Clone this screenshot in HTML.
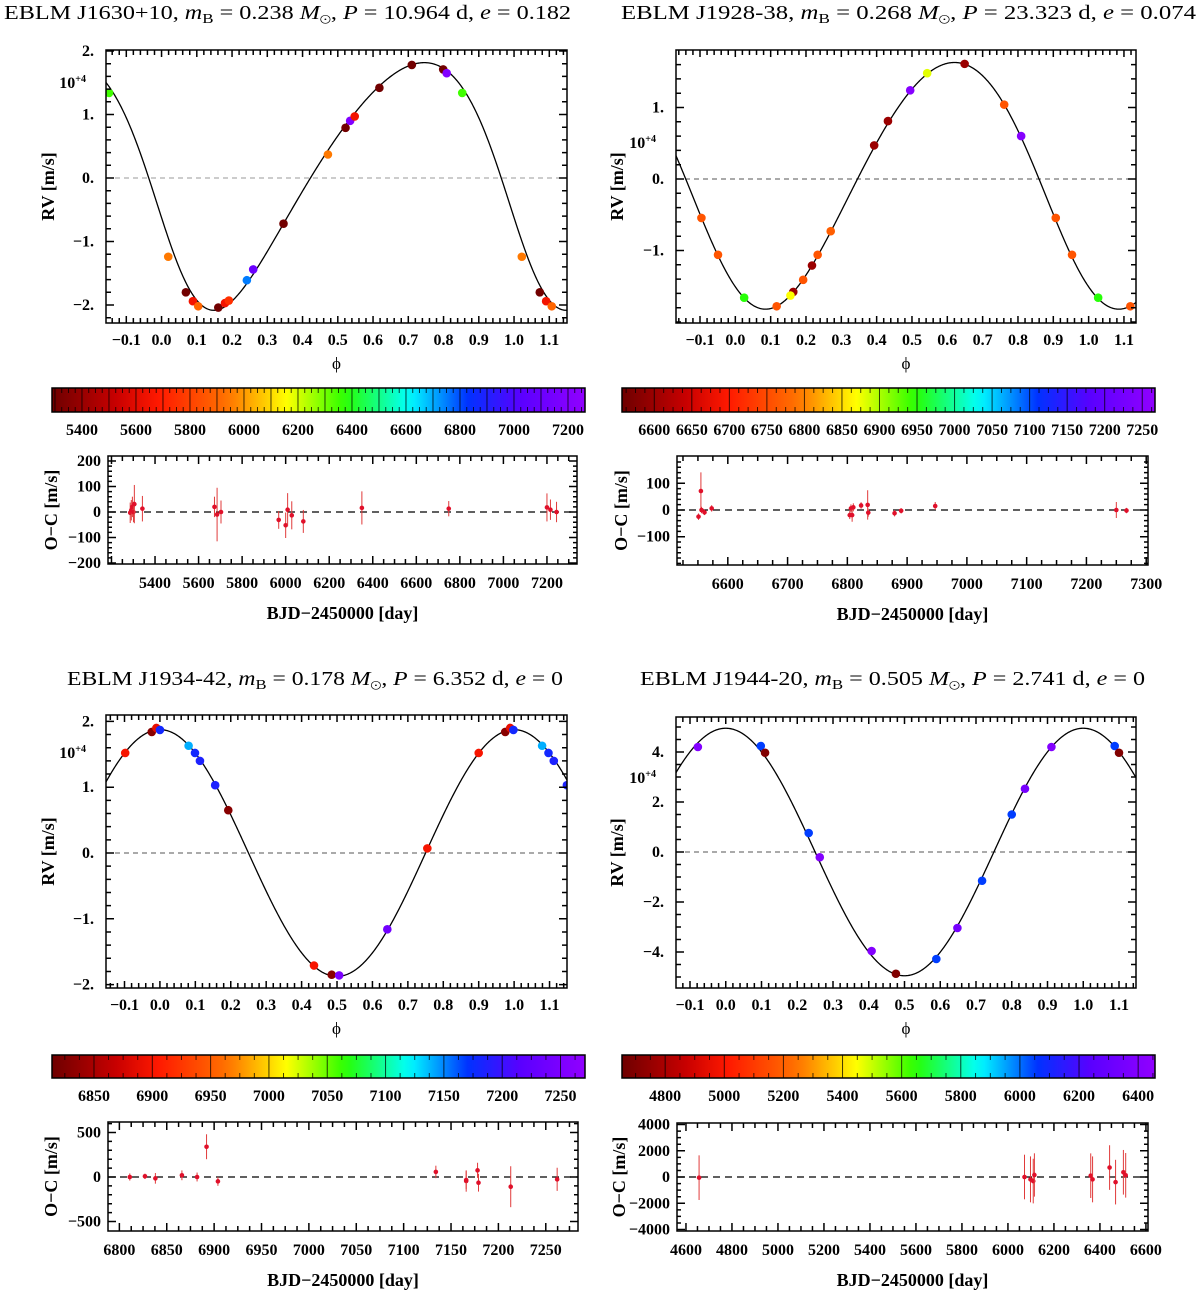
<!DOCTYPE html>
<html><head><meta charset="utf-8"><title>EBLM RV fits</title>
<style>
html,body{margin:0;padding:0;background:#fff;}
svg{display:block;}
text{font-family:"Liberation Serif","Times New Roman","Nimbus Roman","Nimbus Roman No9 L","FreeSerif","DejaVu Serif",serif;}
.tick{font-weight:bold;font-size:16px;}
.axl{font-weight:bold;font-size:18px;}
</style></head>
<body>
<svg id="fig" width="1200" height="1294" viewBox="0 0 1200 1294" xmlns="http://www.w3.org/2000/svg">
<defs id="defs"></defs>
<text x="4" y="19" font-size="20" textLength="567" lengthAdjust="spacingAndGlyphs">EBLM J1630+10, <tspan font-style="italic">m</tspan><tspan font-size="14" dy="4">B</tspan><tspan dy="-4"> = 0.238 </tspan><tspan font-style="italic">M</tspan><tspan font-size="14" dy="4">⊙</tspan><tspan dy="-4">, </tspan><tspan font-style="italic">P</tspan> = 10.964 d, <tspan font-style="italic">e</tspan> = 0.182</text>
<text x="621" y="19" font-size="20" textLength="575" lengthAdjust="spacingAndGlyphs">EBLM J1928-38, <tspan font-style="italic">m</tspan><tspan font-size="14" dy="4">B</tspan><tspan dy="-4"> = 0.268 </tspan><tspan font-style="italic">M</tspan><tspan font-size="14" dy="4">⊙</tspan><tspan dy="-4">, </tspan><tspan font-style="italic">P</tspan> = 23.323 d, <tspan font-style="italic">e</tspan> = 0.074</text>
<text x="67" y="685" font-size="20" textLength="496" lengthAdjust="spacingAndGlyphs">EBLM J1934-42, <tspan font-style="italic">m</tspan><tspan font-size="14" dy="4">B</tspan><tspan dy="-4"> = 0.178 </tspan><tspan font-style="italic">M</tspan><tspan font-size="14" dy="4">⊙</tspan><tspan dy="-4">, </tspan><tspan font-style="italic">P</tspan> = 6.352 d, <tspan font-style="italic">e</tspan> = 0</text>
<text x="640" y="685" font-size="20" textLength="505" lengthAdjust="spacingAndGlyphs">EBLM J1944-20, <tspan font-style="italic">m</tspan><tspan font-size="14" dy="4">B</tspan><tspan dy="-4"> = 0.505 </tspan><tspan font-style="italic">M</tspan><tspan font-size="14" dy="4">⊙</tspan><tspan dy="-4">, </tspan><tspan font-style="italic">P</tspan> = 2.741 d, <tspan font-style="italic">e</tspan> = 0</text>
</svg>
<script>
// ---------- DATA ----------
const p1Phase=[-0.149,0.019,0.069,0.089,0.104,0.161,0.180,0.191,0.242,0.260,0.346,0.472,0.522,0.535,0.548,0.618,0.710,0.799,0.809,0.853,1.022,1.073,1.091,1.107];
const p1RV=[1.34,-1.24,-1.80,-1.94,-2.02,-2.04,-1.97,-1.93,-1.61,-1.44,-0.72,0.37,0.79,0.90,0.97,1.42,1.78,1.71,1.65,1.34,-1.24,-1.80,-1.94,-2.02];
const p1Time=[6350,5950,5300,5650,5900,5300,5650,5750,6750,7100,5300,5950,5300,7200,5650,5300,5300,5300,7200,6350,5950,5300,5650,5900];
const p1Model=[1.95,0.182,123,0.06,0.035];
const p1OcTime=[5286,5291,5296,5301,5305,5342,5673,5685,5703,5968,6000,6009,6028,6081,6350,6749,7200,7216,7244];
const p1Oc=[-3,7,20,0,31,13,20,-10,0,-31,-52,9,-13,-37,16,13,18,9,0];
const p1OcErr=[40,40,40,40,75,50,40,105,45,35,50,65,55,45,65,30,55,40,40];
const p1YTicks=[2,1,0,-1,-2];
const p1CbTicks=[5400,5600,5800,6000,6200,6400,6600,6800,7000,7200];
const p1OcYTicks=[200,100,0,-100,-200];
const p1OcXTicks=[5400,5600,5800,6000,6200,6400,6600,6800,7000,7200];
const p2Phase=[-0.096,-0.049,0.025,0.117,0.164,0.156,0.192,0.217,0.233,0.270,0.393,0.432,0.495,0.543,0.649,0.761,0.809,0.907,0.953,1.027,1.118];
const p2RV=[-0.545,-1.06,-1.66,-1.78,-1.58,-1.63,-1.41,-1.21,-1.06,-0.73,0.47,0.81,1.24,1.48,1.61,1.04,0.60,-0.545,-1.06,-1.66,-1.78];
const p2Time=[6760,6760,6950,6760,6600,6870,6760,6600,6760,6770,6600,6600,7250,6880,6600,6760,7250,6760,6760,6950,6760];
const p2Model=[1.725,0.074,132,-0.01,-0.031];
const p2OcTime=[6551,6555,6556,6561,6573,6804,6806,6808,6810,6823,6834,6835,6879,6890,6947,7250,7267];
const p2Oc=[-25,71,0,-9,6,-19,6,-19,10,17,19,-10,-12,-3,15,0,-2];
const p2OcErr=[12,70,12,10,12,15,15,25,15,12,55,15,12,10,15,30,10];
const p2YTicks=[1,0,-1];
const p2CbTicks=[6600,6650,6700,6750,6800,6850,6900,6950,7000,7050,7100,7150,7200,7250];
const p2OcYTicks=[100,0,-100];
const p2OcXTicks=[6600,6700,6800,6900,7000,7100,7200,7300];
const p3Phase=[-0.098,-0.023,-0.010,0.0,0.081,0.099,0.113,0.156,0.193,0.435,0.485,0.506,0.642,0.755,0.900,0.975,0.989,0.998,1.079,1.097,1.112,1.149];
const p3RV=[1.52,1.84,1.90,1.87,1.63,1.52,1.40,1.03,0.65,-1.71,-1.85,-1.86,-1.16,0.07,1.52,1.84,1.90,1.87,1.63,1.52,1.40,1.03];
const p3Time=[6900,6830,6890,7180,7140,7180,7185,7185,6830,6900,6830,7250,7240,6900,6900,6830,6890,7180,7140,7180,7185,7185];
const p3Model=[1.875,0,0,0,0];
const p3OcTime=[6811,6827,6838,6866,6882,6892,6904,7134,7166,7166,7178,7179,7213,7262];
const p3Oc=[0,8,-15,19,0,340,-49,57,-45,-34,75,-64,-109,-26];
const p3OcErr=[40,30,60,55,50,140,50,70,120,100,85,100,230,130];
const p3YTicks=[2,1,0,-1,-2];
const p3CbTicks=[6850,6900,6950,7000,7050,7100,7150,7200,7250];
const p3OcYTicks=[500,0,-500];
const p3OcXTicks=[6800,6850,6900,6950,7000,7050,7100,7150,7200,7250];
const p4Phase=[-0.078,0.098,0.110,0.232,0.263,0.408,0.476,0.589,0.648,0.717,0.800,0.837,0.911,1.088,1.100];
const p4RV=[4.20,4.24,3.97,0.76,-0.21,-3.96,-4.87,-4.28,-3.04,-1.15,1.50,2.53,4.20,4.24,3.97];
const p4Time=[6400,6050,4700,6050,6400,6400,4700,6050,6350,6050,6050,6350,6400,6050,4700];
const p4Model=[4.95,0,0,0,0];
const p4OcTime=[4657,6072,6098,6110,6115,6360,6368,6442,6468,6502,6512];
const p4Oc=[-50,0,-180,-310,155,100,-180,720,-390,360,130];
const p4OcErr=[1700,1700,1750,1700,1650,1700,1750,1700,1700,1700,1700];
const p4YTicks=[4,2,0,-2,-4];
const p4CbTicks=[4800,5000,5200,5400,5600,5800,6000,6200,6400];
const p4OcYTicks=[4000,2000,0,-2000,-4000];
const p4OcXTicks=[4600,4800,5000,5200,5400,5600,5800,6000,6200,6400,6600];
const phaseTicks=[-0.1,0,0.1,0.2,0.3,0.4,0.5,0.6,0.7,0.8,0.9,1.0,1.1];

// ---------- HELPERS ----------
const NS='http://www.w3.org/2000/svg';
const svg=document.getElementById('fig');
const defs=document.getElementById('defs');
function mk(tag,attrs,parent){const e=document.createElementNS(NS,tag);for(const k in attrs)e.setAttribute(k,attrs[k]);(parent||svg).appendChild(e);return e;}
const cstops=[[0,[110,0,0]],[0.12,[200,0,0]],[0.2,[255,25,0]],[0.33,[255,115,0]],[0.44,[255,255,0]],[0.55,[40,255,0]],[0.67,[0,255,255]],[0.78,[0,50,255]],[0.88,[90,0,255]],[1,[145,0,255]]];
function cmap(f){f=Math.max(0,Math.min(1,f));for(let i=1;i<cstops.length;i++){if(f<=cstops[i][0]){const a=cstops[i-1],b=cstops[i];const t=(f-a[0])/(b[0]-a[0]);const c=a[1].map((v,j)=>Math.round(v+(b[1][j]-v)*t));return 'rgb('+c.join(',')+')';}}return 'rgb(145,0,255)';}
const grad=mk('linearGradient',{id:'jet',x1:'0',x2:'1',y1:'0',y2:'0'},defs);
for(let i=0;i<=50;i++){mk('stop',{offset:(i/50).toString(),'stop-color':cmap(i/50)},grad);}
function fmtMinus(s){return s.replace('-','−');}
function kepler(phi,m){const K=m[0],e=m[1],w=m[2]*Math.PI/180,g=m[3],tp=m[4];
  const M=2*Math.PI*(phi-tp);let E=M;for(let i=0;i<30;i++){E=E-(E-e*Math.sin(E)-M)/(1-e*Math.cos(E));}
  const nu=2*Math.atan2(Math.sqrt(1+e)*Math.sin(E/2),Math.sqrt(1-e)*Math.cos(E/2));
  return g+K*(Math.cos(nu+w)+e*Math.cos(w));}

function drawRV(c,phases,rvs,times,model,yTicks){
  const xs=p=>c.x0p+(p+0.1)*c.kx;
  const ys=v=>c.y0v-v*c.ky;
  const g=mk('g',{});
  
  
  const cp=mk('clipPath',{id:c.name+'clip'},defs);
  mk('rect',{x:c.L,y:c.T,width:c.R-c.L,height:c.B-c.T},cp);
  const zl=mk('line',{x1:c.L,x2:c.R,y1:ys(0),y2:ys(0),stroke:c.zc,'stroke-width':1,'stroke-dasharray':'5,4'},g);
  
  
  const pmin=(c.L-c.x0p)/c.kx-0.1,pmax=(c.R-c.x0p)/c.kx-0.1;let d='';
  for(let i=0;i<=700;i++){const p=pmin+(pmax-pmin)*i/700;d+=(i?'L':'M')+xs(p).toFixed(2)+','+ys(kepler(p,model)).toFixed(2);}
  const cv=mk('path',{d:d,fill:'none',stroke:'#000','stroke-width':1.3,'clip-path':'url(#'+c.name+'clip)'},g);
  
  
  for(let i=0;i<phases.length;i++){
    const pt=mk('circle',{cx:xs(phases[i]),cy:ys(rvs[i]),r:4.3,fill:cmap((times[i]-c.cb0)/(c.cb1-c.cb0)),'clip-path':'url(#'+c.name+'clip)'},g);
    
    
  }
  const fr=mk('rect',{x:c.L,y:c.T,width:c.R-c.L,height:c.B-c.T,fill:'none',stroke:'#000','stroke-width':1.5},g);
  
  
  let td='';
  for(let k=-20;k<=80;k++){const p=k*0.02;const x=xs(p);if(x<c.L+1||x>c.R-1)continue;const maj=Math.abs(p*10-Math.round(p*10))<1e-6;const len=maj?7:5;td+='M'+x+','+c.B+'v-'+len+'M'+x+','+c.T+'v'+len;}
  for(let k=-200;k<=200;k++){const v=k*c.minorY;const y=ys(v);if(y<c.T+1||y>c.B-1)continue;const maj=yTicks.some(t=>Math.abs(t-v)<1e-6);const len=maj?8:5;td+='M'+c.L+','+y+'h'+len+'M'+c.R+','+y+'h-'+len;}
  const tk=mk('path',{d:td,stroke:'#000','stroke-width':1.5,fill:'none'},g);
  
  
  for(const p of phaseTicks){
    const t=mk('text',{x:xs(p),y:c.B+22,'text-anchor':'middle',class:'tick'},g);
    t.textContent=fmtMinus(p.toFixed(1));
    
    
  }
  for(const v of yTicks){
    const t=mk('text',{x:c.L-12,y:ys(v)+5,'text-anchor':'end',class:'tick'},g);
    t.textContent=fmtMinus(v.toFixed(0))+'.';
    
    
  }
  const ex=mk('text',{x:c.L-20,y:c.expY+5,'text-anchor':'end',class:'tick'},g);
  ex.textContent='10';
  
  
  const es=mk('tspan',{'font-size':'10',dy:'-6'},ex);
  es.textContent='+4';
  const yl=mk('text',{x:c.ylx,y:(c.T+c.B)/2,'text-anchor':'middle',class:'axl',transform:'rotate(-90 '+c.ylx+' '+(c.T+c.B)/2+')'},g);
  yl.textContent='RV [m/s]';
  
  
  const xl=mk('text',{x:(c.L+c.R)/2,y:c.B+46,'text-anchor':'middle','font-size':'17'},g);
  xl.textContent='ϕ';
  
  
}

function drawCbar(c,ticks){
  const xs=v=>c.cL+(v-c.cb0)/(c.cb1-c.cb0)*(c.cR-c.cL);
  const g=mk('g',{});
  
  
  const r=mk('rect',{x:c.cL,y:c.cT,width:c.cR-c.cL,height:c.cB-c.cT,fill:'url(#jet)',stroke:'#000','stroke-width':1.5},g);
  
  
  let d='';
  const s0=Math.ceil(c.cb0/c.cbMinor)*c.cbMinor;
  for(let v=s0;v<c.cb1;v+=c.cbMinor){const x=xs(v);const isLine=Math.abs(v/c.cbLine-Math.round(v/c.cbLine))<1e-6;
    if(isLine)d+='M'+x+','+c.cT+'V'+c.cB;else d+='M'+x+','+c.cT+'v5M'+x+','+c.cB+'v-5';}
  const ln=mk('path',{d:d,stroke:'#000','stroke-width':1,'stroke-opacity':0.75,fill:'none'},g);
  
  
  for(const v of ticks){
    const t=mk('text',{x:xs(v),y:c.cB+23,'text-anchor':'middle',class:'tick'},g);
    t.textContent=String(v);
    
    
  }
}

function drawOC(c,times,oc,err,yTicks,xTicks){
  const xs=v=>c.oL+(v-c.ox0)/(c.ox1-c.ox0)*(c.oR-c.oL);
  const ys=v=>c.oZ-v*c.oky;
  const g=mk('g',{});
  
  
  const cp=mk('clipPath',{id:c.name+'oclip'},defs);
  mk('rect',{x:c.oL,y:c.oT,width:c.oR-c.oL,height:c.oB-c.oT},cp);
  const zl=mk('line',{x1:c.oL,x2:c.oR,y1:c.oZ,y2:c.oZ,stroke:'#000','stroke-width':1.2,'stroke-dasharray':'7,5'},g);
  
  
  for(let i=0;i<times.length;i++){
    const x=xs(times[i]);
    const eb=mk('line',{x1:x,x2:x,y1:ys(oc[i]-err[i]),y2:ys(oc[i]+err[i]),stroke:'#e03a3a','stroke-width':1,'clip-path':'url(#'+c.name+'oclip)'},g);
    
    
    const pt=mk('circle',{cx:x,cy:ys(oc[i]),r:2.3,fill:'#e0102a'},g);
    
    
  }
  const fr=mk('rect',{x:c.oL,y:c.oT,width:c.oR-c.oL,height:c.oB-c.oT,fill:'none',stroke:'#000','stroke-width':1.5},g);
  
  
  let d='';
  const s0=Math.ceil(c.ox0/c.oxMinor)*c.oxMinor;
  for(let v=s0;v<=c.ox1;v+=c.oxMinor){const x=xs(v);if(x<c.oL+1||x>c.oR-1)continue;const maj=Math.abs(v/c.oxMajor-Math.round(v/c.oxMajor))<1e-6;const len=maj?8:5;d+='M'+x+','+c.oB+'v-'+len+'M'+x+','+c.oT+'v'+len;}
  for(let k=-100;k<=100;k++){const v=k*c.oyMinor;const y=ys(v);if(y<c.oT+1||y>c.oB-1)continue;const maj=yTicks.some(t=>Math.abs(t-v)<1e-6);const len=maj?8:4;d+='M'+c.oL+','+y+'h'+len+'M'+c.oR+','+y+'h-'+len;}
  const tk=mk('path',{d:d,stroke:'#000','stroke-width':1.5,fill:'none'},g);
  
  
  for(const v of xTicks){
    const t=mk('text',{x:xs(v),y:c.oB+24,'text-anchor':'middle',class:'tick'},g);
    t.textContent=String(v);
    
    
  }
  for(const v of yTicks){
    const t=mk('text',{x:c.oL-7,y:ys(v)+5,'text-anchor':'end',class:'tick'},g);
    t.textContent=fmtMinus(String(v));
    
    
  }
  const cy=(c.oT+c.oB)/2;
  const yl=mk('text',{x:c.oylx,y:cy,'text-anchor':'middle',class:'axl',transform:'rotate(-90 '+c.oylx+' '+cy+')'},g);
  yl.textContent='O−C [m/s]';
  
  
  const xl=mk('text',{x:(c.oL+c.oR)/2,y:c.oB+55,'text-anchor':'middle',class:'axl'},g);
  xl.textContent='BJD−2450000 [day]';
  
  
}

// ---------- LAYOUT ----------
const c1={name:'j1630',L:106,R:567,T:50,B:323,x0p:126.3,kx:352.5,y0v:178,ky:63.5,minorY:0.2,zc:'#999',expY:83,ylx:54,
  cL:52,cR:585,cT:388,cB:412,cb0:5289,cb1:7263,cbMinor:25,cbLine:100,
  oL:108,oR:577,oT:456,oB:564,ox0:5184,ox1:7338,oxMinor:50,oxMajor:200,oZ:512,oky:0.255,oyMinor:20,oylx:57};
const c2={name:'j1928',L:676,R:1136,T:50,B:323,x0p:700,kx:353.3,y0v:179,ky:71.5,minorY:0.2,zc:'#555',expY:143,ylx:623,
  cL:622,cR:1155,cT:388,cB:412,cb0:6557,cb1:7267,cbMinor:12.5,cbLine:50,
  oL:677,oR:1148,oT:456,oB:565,ox0:6515,ox1:7303,oxMinor:25,oxMajor:100,oZ:510,oky:0.267,oyMinor:20,oylx:627};
const c3={name:'j1934',L:106,R:567,T:715,B:988,x0p:124.5,kx:354.2,y0v:853,ky:65.8,minorY:0.2,zc:'#555',expY:753,ylx:54,
  cL:52,cR:585,cT:1055,cB:1078,cb0:6814,cb1:7271,cbMinor:12.5,cbLine:50,
  oL:108,oR:578,oT:1122,oB:1231,ox0:6788,ox1:7284,oxMinor:12.5,oxMajor:50,oZ:1177,oky:0.089,oyMinor:100,oylx:57};
const c4={name:'j1944',L:676,R:1136,T:717,B:988,x0p:690,kx:357.5,y0v:852,ky:25,minorY:0.5,zc:'#555',expY:778,ylx:623,
  cL:622,cR:1155,cT:1055,cB:1078,cb0:4654,cb1:6457,cbMinor:50,cbLine:200,
  oL:677,oR:1148,oT:1123,oB:1231,ox0:4561,ox1:6609,oxMinor:50,oxMajor:200,oZ:1177,oky:0.013125,oyMinor:500,oylx:625};

drawRV(c1,p1Phase,p1RV,p1Time,p1Model,p1YTicks);
drawCbar(c1,p1CbTicks);
drawOC(c1,p1OcTime,p1Oc,p1OcErr,p1OcYTicks,p1OcXTicks);
drawRV(c2,p2Phase,p2RV,p2Time,p2Model,p2YTicks);
drawCbar(c2,p2CbTicks);
drawOC(c2,p2OcTime,p2Oc,p2OcErr,p2OcYTicks,p2OcXTicks);
drawRV(c3,p3Phase,p3RV,p3Time,p3Model,p3YTicks);
drawCbar(c3,p3CbTicks);
drawOC(c3,p3OcTime,p3Oc,p3OcErr,p3OcYTicks,p3OcXTicks);
drawRV(c4,p4Phase,p4RV,p4Time,p4Model,p4YTicks);
drawCbar(c4,p4CbTicks);
drawOC(c4,p4OcTime,p4Oc,p4OcErr,p4OcYTicks,p4OcXTicks);
</script>
</body></html>
